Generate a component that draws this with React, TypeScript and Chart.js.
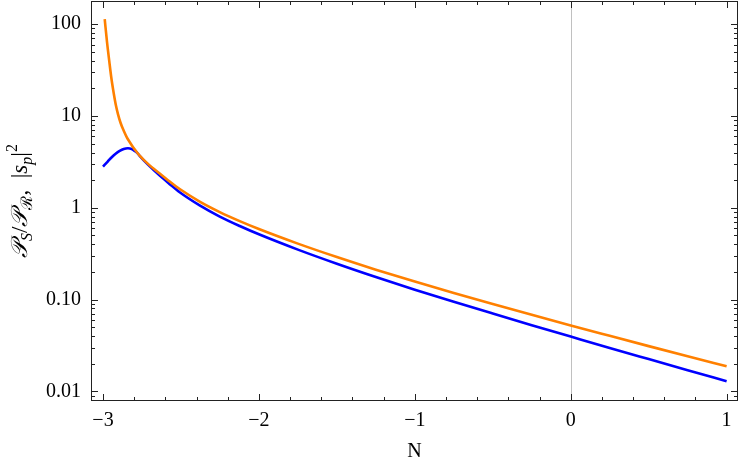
import React, { useEffect, useRef } from "react";
import { Chart, registerables } from "chart.js";

Chart.register(...registerables);

// Orange curve: P_S / P_R
const orangeN = [-2.989, -2.974, -2.96, -2.946, -2.931, -2.917, -2.904, -2.887, -2.867, -2.848, -2.829, -2.807, -2.786, -2.765, -2.713, -2.636, -2.572, -2.508, -2.38, -2.251, -2.123, -2.0, -1.75, -1.5, -1.25, -1.0, -0.75, -0.5, -0.25, 0.0, 0.25, 0.5, 0.75, 1.0];
const orangeVals = [113.4, 63.3, 39.8, 25.6, 17.6, 13.0, 10.5, 8.39, 6.9, 5.9, 5.21, 4.57, 4.1, 3.71, 3.03, 2.36, 1.93, 1.6, 1.168, 0.898, 0.716, 0.587, 0.407, 0.2907, 0.2118, 0.1571, 0.118, 0.0895, 0.0683, 0.0523, 0.0403, 0.0311, 0.0241, 0.01877];

// Blue curve: |s_p|^2
const blueN = [-3.0, -2.97, -2.944, -2.919, -2.893, -2.867, -2.84, -2.816, -2.797, -2.781, -2.765, -2.713, -2.636, -2.572, -2.508, -2.38, -2.251, -2.123, -2.0, -1.75, -1.5, -1.25, -1.0, -0.75, -0.5, -0.25, 0.0, 0.25, 0.5, 0.75, 1.0];
const blueVals = [2.81, 3.19, 3.55, 3.88, 4.17, 4.38, 4.46, 4.37, 4.17, 3.97, 3.68, 2.97, 2.24, 1.81, 1.476, 1.062, 0.802, 0.633, 0.514, 0.35, 0.2457, 0.176, 0.1282, 0.0946, 0.0704, 0.0526, 0.0395, 0.0297, 0.02245, 0.01699, 0.01288];

const xTicks = [-3, -2, -1, 0, 1];
const yTicks = [0.01, 0.1, 1, 10, 100];
const yTickLabels = ["0.01", "0.10", "1", "10", "100"];
const xAxisTitle = "N";

const SERIF = "'Liberation Serif', 'DejaVu Serif', serif";

const framePlugin = {
  id: "frameTicks",
  beforeDatasetsDraw(chart: any) {
    const { ctx, chartArea: a, scales } = chart;
    const xs = scales.x;
    ctx.save();
    const x0 = Math.round(xs.getPixelForValue(0)) + 0.5;
    ctx.strokeStyle = "#c0c0c0";
    ctx.lineWidth = 1;
    ctx.beginPath();
    ctx.moveTo(x0, a.top);
    ctx.lineTo(x0, a.bottom);
    ctx.stroke();
    ctx.restore();
  },
  afterDatasetsDraw(chart: any) {
    const { ctx, chartArea: a, scales } = chart;
    const xs = scales.x;
    const ys = scales.y;
    ctx.save();
    ctx.strokeStyle = "#222";
    ctx.lineWidth = 1;
    ctx.strokeRect(a.left + 0.5, a.top + 0.5, a.right - a.left - 1, a.bottom - a.top - 1);
    const major = 7;
    const minor = 4;
    ctx.beginPath();
    for (let k = -15; k <= 5; k++) {
      const v = k / 5;
      const px = Math.round(xs.getPixelForValue(v)) + 0.5;
      if (px < a.left || px > a.right) continue;
      const len = k % 5 === 0 ? major : minor;
      ctx.moveTo(px, a.bottom);
      ctx.lineTo(px, a.bottom - len);
      ctx.moveTo(px, a.top);
      ctx.lineTo(px, a.top + len);
    }
    for (let e = -3; e <= 2; e++) {
      for (let m = 1; m <= 9; m++) {
        const v = m * Math.pow(10, e);
        const py = Math.round(ys.getPixelForValue(v)) + 0.5;
        if (py < a.top || py > a.bottom) continue;
        const len = m === 1 ? major : minor;
        ctx.moveTo(a.left, py);
        ctx.lineTo(a.left + len, py);
        ctx.moveTo(a.right, py);
        ctx.lineTo(a.right - len, py);
      }
    }
    ctx.stroke();
    ctx.restore();
  },
  afterDraw(chart: any) {
    const { ctx, chartArea: a } = chart;
    const big = 23;
    const small = 16;
    const parts: [string, string, number][] = [
      ["\u{1D4AB}", `italic ${big}px ${SERIF}`, 0],
      ["S", `italic ${small}px ${SERIF}`, 5],
      ["/", `${big}px ${SERIF}`, 0],
      ["\u{1D4AB}", `italic ${big}px ${SERIF}`, 0],
      ["\u211B", `${small}px ${SERIF}`, 5],
      [",  |", `${big}px ${SERIF}`, 0],
      ["s", `italic ${big}px ${SERIF}`, 0],
      ["p", `italic ${small}px ${SERIF}`, 5],
      ["|", `${big}px ${SERIF}`, 0],
      ["2", `${small}px ${SERIF}`, -10],
    ];
    ctx.save();
    let total = 0;
    for (const [t, f] of parts) {
      ctx.font = f;
      total += ctx.measureText(t).width;
    }
    const cx = 21;
    const cy = (a.top + a.bottom) / 2;
    ctx.translate(cx, cy);
    ctx.rotate(-Math.PI / 2);
    ctx.fillStyle = "#000";
    ctx.textBaseline = "alphabetic";
    let x = -total / 2;
    for (const [t, f, dy] of parts) {
      ctx.font = f;
      ctx.fillText(t, x, 6 + dy);
      x += ctx.measureText(t).width;
    }
    ctx.restore();
  },
};

export default function App() {
  const ref = useRef<HTMLCanvasElement | null>(null);
  useEffect(() => {
    if (!ref.current) return;
    const chart = new Chart(ref.current, {
      type: "line",
      data: {
        datasets: [
          {
            label: "P_S/P_R",
            data: orangeN.map((n, i) => ({ x: n, y: orangeVals[i] })),
            borderColor: "#ff8000",
            borderWidth: 2.6,
            pointRadius: 0,
            cubicInterpolationMode: "monotone",
            fill: false,
            order: 0,
          },
          {
            label: "|s_p|^2",
            data: blueN.map((n, i) => ({ x: n, y: blueVals[i] })),
            borderColor: "#0000ff",
            borderWidth: 2.6,
            pointRadius: 0,
            cubicInterpolationMode: "monotone",
            fill: false,
            order: 1,
          },
        ],
      },
      options: {
        animation: false,
        responsive: false,
        maintainAspectRatio: false,
        layout: { padding: { top: 1, right: 9, left: 0, bottom: 0 } },
        plugins: { legend: { display: false }, tooltip: { enabled: false } },
        scales: {
          x: {
            type: "linear",
            min: -3.077,
            max: 1.073,
            grid: { display: false, drawTicks: false },
            border: { display: false },
            afterBuildTicks: (s: any) => {
              s.ticks = xTicks.map((v) => ({ value: v }));
            },
            afterFit: (s: any) => {
              s.height = 64;
              s.paddingLeft = 0;
              s.paddingRight = 0;
            },
            ticks: {
              color: "#000",
              padding: 8,
              maxRotation: 0,
              font: { family: SERIF, size: 20 },
              callback: (v: any) => (Number(v) < 0 ? "\u2212" + Math.abs(Number(v)) : String(v)),
            },
            title: {
              display: true,
              text: xAxisTitle,
              color: "#000",
              font: { family: SERIF, size: 20 },
              padding: { top: 4, bottom: 1 },
            },
          },
          y: {
            type: "logarithmic",
            min: 0.00785,
            max: 179,
            grid: { display: false, drawTicks: false },
            border: { display: false },
            afterBuildTicks: (s: any) => {
              s.ticks = yTicks.map((v) => ({ value: v }));
            },
            afterFit: (s: any) => {
              s.width = 91;
              s.paddingTop = 0;
              s.paddingBottom = 0;
            },
            ticks: {
              color: "#000",
              padding: 10,
              font: { family: SERIF, size: 20 },
              callback: (v: any) => {
                const i = yTicks.findIndex((t) => Math.abs(t - Number(v)) < 1e-9 * Math.max(1, t));
                return i >= 0 ? yTickLabels[i] : "";
              },
            },
          },
        },
      },
      plugins: [framePlugin],
    });
    return () => chart.destroy();
  }, []);
  return (
    <div style={{ position: "fixed", left: 0, top: 0, width: 747, height: 465, background: "#fff" }}>
      <canvas ref={ref} width={747} height={465} style={{ width: 747, height: 465 }} />
    </div>
  );
}
